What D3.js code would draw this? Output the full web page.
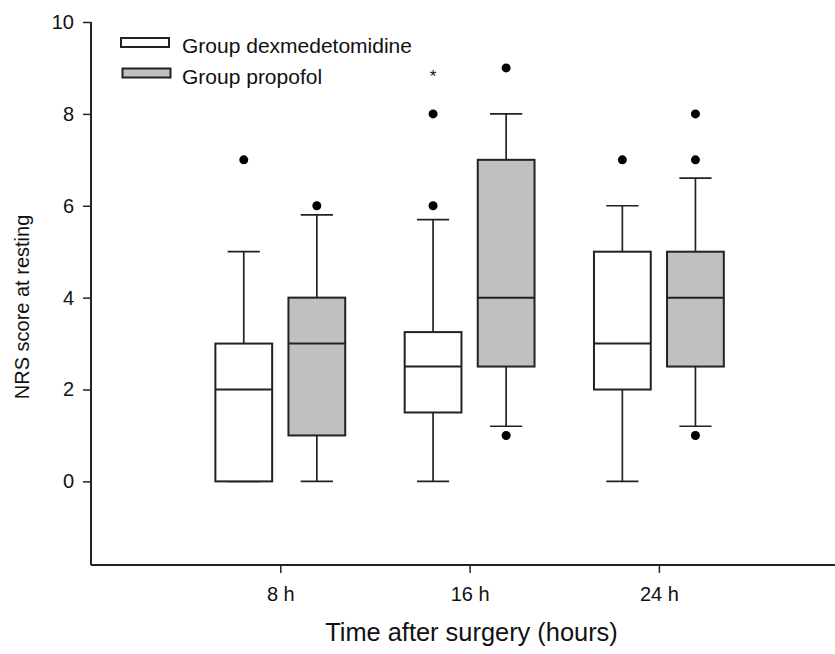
<!DOCTYPE html>
<html>
<head>
<meta charset="utf-8">
<script src="https://cdn.jsdelivr.net/npm/d3@7"></script>
<style>
  body { margin: 0; background: #fff; }
  svg { display: block; font-family: "Liberation Sans", Arial, sans-serif; }
</style>
</head>
<body>
<div id="chart"></div>
<script>
const W = 835, H = 654;

// data
const timepoints = ["8 h", "16 h", "24 h"];
const seriesNames = ["Group dexmedetomidine", "Group propofol"];
const seriesFill = ["#ffffff", "#c0c0c0"];

const dexQ1 = [0, 1.5, 2];
const dexMedian = [2, 2.5, 3];
const dexQ3 = [3, 3.25, 5];
const dexLow = [0, 0, 0];
const dexHigh = [5, 5.7, 6];
const dexOutliers = [[7], [6, 8], [7]];
const dexExtremes = [[], [8.9], []];

const propQ1 = [1, 2.5, 2.5];
const propMedian = [3, 4, 4];
const propQ3 = [4, 7, 5];
const propLow = [0, 1.2, 1.2];
const propHigh = [5.8, 8, 6.6];
const propOutliers = [[6], [1, 9], [1, 7, 8]];
const propExtremes = [[], [], []];

const yTicks = [0, 2, 4, 6, 8, 10];

const series = [
  { q1: dexQ1, med: dexMedian, q3: dexQ3, lo: dexLow, hi: dexHigh, out: dexOutliers, ext: dexExtremes },
  { q1: propQ1, med: propMedian, q3: propQ3, lo: propLow, hi: propHigh, out: propOutliers, ext: propExtremes }
];

const plotLeft = 91, plotTop = 22, plotBottom = 565;
const unit = 189.3;

const x = d3.scaleLinear().domain([0, 4]).range([plotLeft, plotLeft + 4 * unit]);
const y = d3.scaleLinear().domain([-1.82, 10]).range([plotBottom, plotTop]);

const offset = 0.193, boxW = 0.3, capW = 0.17;
const ink = "#222";

const svg = d3.select("#chart").append("svg").attr("width", W).attr("height", H);

// axes
const yAxis = svg.append("g")
  .attr("transform", `translate(${plotLeft},0)`)
  .call(d3.axisLeft(y).tickValues(yTicks).tickSize(8).tickPadding(9).tickFormat(d3.format("d")));
yAxis.select(".domain").attr("d", `M-0,${y(10)}V${plotBottom}`).attr("stroke", ink).attr("stroke-width", 2);

const xAxis = svg.append("g")
  .attr("transform", `translate(0,${plotBottom})`)
  .call(d3.axisBottom(x).tickValues([1, 2, 3]).tickSize(8).tickPadding(14).tickFormat((d, i) => timepoints[i]));
xAxis.select(".domain").attr("d", `M${plotLeft},0H${W + 20}`).attr("stroke", ink).attr("stroke-width", 2);

svg.selectAll(".tick line").attr("stroke", ink).attr("stroke-width", 1.5);
svg.selectAll(".tick text").attr("font-size", 20).attr("fill", "#111")
  .attr("font-family", "Liberation Sans, Arial, sans-serif");

// boxes
series.forEach((s, si) => {
  const g = svg.append("g");
  timepoints.forEach((t, i) => {
    const c = i + 1 + (si === 0 ? -offset : offset);
    const cx = x(c);
    // whiskers
    g.append("line").attr("x1", cx).attr("x2", cx).attr("y1", y(s.q3[i])).attr("y2", y(s.hi[i]))
      .attr("stroke", ink).attr("stroke-width", 1.7);
    g.append("line").attr("x1", cx).attr("x2", cx).attr("y1", y(s.q1[i])).attr("y2", y(s.lo[i]))
      .attr("stroke", ink).attr("stroke-width", 1.7);
    [s.hi[i], s.lo[i]].forEach(v => {
      g.append("line").attr("x1", x(c - capW / 2)).attr("x2", x(c + capW / 2))
        .attr("y1", y(v)).attr("y2", y(v)).attr("stroke", ink).attr("stroke-width", 1.7);
    });
    g.append("rect")
      .attr("x", x(c - boxW / 2)).attr("width", x(c + boxW / 2) - x(c - boxW / 2))
      .attr("y", y(s.q3[i])).attr("height", y(s.q1[i]) - y(s.q3[i]))
      .attr("fill", seriesFill[si]).attr("stroke", ink).attr("stroke-width", 2);
    g.append("line").attr("x1", x(c - boxW / 2)).attr("x2", x(c + boxW / 2))
      .attr("y1", y(s.med[i])).attr("y2", y(s.med[i])).attr("stroke", ink).attr("stroke-width", 2);
    s.out[i].forEach(v => {
      g.append("circle").attr("cx", cx).attr("cy", y(v)).attr("r", 4.5).attr("fill", "#000");
    });
    s.ext[i].forEach(v => {
      g.append("text").attr("x", cx).attr("y", y(v) + 9).attr("text-anchor", "middle")
        .attr("font-size", 17).attr("fill", "#111").text("*");
    });
  });
});

// legend
const legend = svg.append("g");
seriesNames.forEach((name, i) => {
  legend.append("rect").attr("x", 121 + i * 1.5).attr("y", 38 + i * 30.5).attr("width", 48).attr("height", 9)
    .attr("fill", seriesFill[i]).attr("stroke", ink).attr("stroke-width", 2);
  legend.append("text").attr("x", 182).attr("y", 53 + i * 30.5)
    .attr("font-size", 21).attr("fill", "#111").text(name);
});

// axis titles
svg.append("text")
  .attr("transform", "translate(29,307) rotate(-90)")
  .attr("text-anchor", "middle").attr("font-size", 20).attr("fill", "#111")
  .text("NRS score at resting");

svg.append("text")
  .attr("x", 471.5).attr("y", 640.5)
  .attr("text-anchor", "middle").attr("font-size", 25.4).attr("fill", "#111")
  .text("Time after surgery (hours)");
</script>
</body>
</html>
